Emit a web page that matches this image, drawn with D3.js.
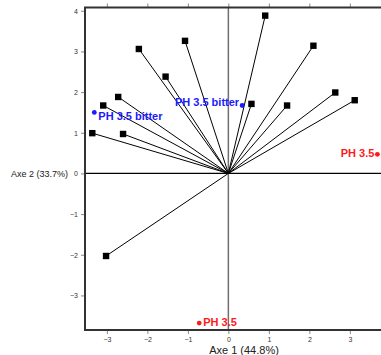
<!DOCTYPE html>
<html><head><meta charset="utf-8">
<script src="https://cdn.jsdelivr.net/npm/d3@7/dist/d3.min.js"></script>
<style>body{margin:0;background:#fff;overflow:hidden}svg{display:block}</style>
</head><body>
<svg id="c" width="381" height="355"></svg>
<script>
// Variable vectors (Axe 1, Axe 2)
const varX = [0.91, 2.10, -2.21, -1.07, -1.55, -2.72, -3.09, 0.57, 1.45, 2.64, 3.12, -3.36, -2.60, -3.02];
const varY = [3.88, 3.14, 3.06, 3.26, 2.38, 1.88, 1.67, 1.71, 1.67, 1.99, 1.80, 0.99, 0.97, -2.03];
// Supplementary points
const supLabels = ["PH 3.5 bitter", "PH 3.5 bitter", "PH 3.5", "PH 3.5"];
const supX = [0.34, -3.31, 3.68, -0.72];
const supY = [1.67, 1.50, 0.47, -3.68];
const supGroup = ["bitter", "bitter", "ph", "ph"];
const xTicks = [-3, -2, -1, 0, 1, 2, 3];
const yTicks = [-3, -2, -1, 0, 1, 2, 3, 4];
const xTitle = "Axe 1 (44.8%)";
const yTitle = "Axe 2 (33.7%)";

const svg = d3.select("#c");
const L = 85, T = 7.5, B = 330, R = 386.3;
const x = d3.scaleLinear().domain([-3.54, 3.9]).range([L, R]);
const y = d3.scaleLinear().domain([-3.85, 4.08]).range([B, T]);

// zero lines
svg.append("line").attr("x1", x(0)).attr("x2", x(0)).attr("y1", T).attr("y2", B)
  .attr("stroke", "#707070").attr("stroke-width", 1.5);
svg.append("line").attr("x1", L).attr("x2", 381).attr("y1", y(0)).attr("y2", y(0))
  .attr("stroke", "#000").attr("stroke-width", 1.2);

// vectors
const idx = d3.range(varX.length);
svg.append("g").selectAll("line").data(idx).join("line")
  .attr("x1", x(0)).attr("y1", y(0))
  .attr("x2", i => x(varX[i])).attr("y2", i => y(varY[i]))
  .attr("stroke", "#000").attr("stroke-width", 1);
svg.append("g").selectAll("rect").data(idx).join("rect")
  .attr("x", i => x(varX[i]) - 3.2).attr("y", i => y(varY[i]) - 3.2)
  .attr("width", 6.4).attr("height", 6.4).attr("fill", "#000");

// axes
const fontAx = "Arial, 'Liberation Sans', sans-serif";
const ax = svg.append("g").attr("transform", `translate(0,${B})`)
  .call(d3.axisBottom(x).tickValues(xTicks).tickSize(4).tickPadding(3).tickFormat(d3.format("d")));
const ay = svg.append("g").attr("transform", `translate(${L},0)`)
  .call(d3.axisLeft(y).tickValues(yTicks).tickSize(4).tickPadding(3).tickFormat(d3.format("d")));
const at = svg.append("g").attr("transform", `translate(0,${T})`)
  .call(d3.axisTop(x).tickValues(xTicks).tickSize(4).tickFormat(""));
[ax, ay, at].forEach(g => {
  g.select(".domain").remove();
  g.selectAll("line").attr("stroke", "#888").attr("stroke-width", 1);
  g.selectAll("text").attr("font-family", fontAx).attr("font-size", 7).attr("fill", "#333");
});

// frame
svg.append("path").attr("d", `M${R},${T}H${L}V${B}H${R}`).attr("fill", "none")
  .attr("stroke", "#333").attr("stroke-width", 2);

// supplementary points
const col = g => g === "bitter" ? "#1a1aff" : "#ff1a1a";
const sIdx = d3.range(supX.length);
svg.append("g").selectAll("circle").data(sIdx).join("circle")
  .attr("cx", i => x(supX[i])).attr("cy", i => y(supY[i])).attr("r", 2.4)
  .attr("fill", i => col(supGroup[i]));
const anchorRight = [true, false, true, false];
const dy = [0, 8, 3, 3];
svg.append("g").selectAll("text").data(sIdx).join("text")
  .attr("x", i => x(supX[i]) + (anchorRight[i] ? -3 : 4))
  .attr("y", i => y(supY[i]) + dy[i])
  .attr("text-anchor", i => anchorRight[i] ? "end" : "start")
  .attr("font-family", fontAx).attr("font-weight", "bold").attr("font-size", 11)
  .attr("fill", i => col(supGroup[i]))
  .text(i => supLabels[i]);

// axis titles
svg.append("text").attr("x", 244).attr("y", 354).attr("text-anchor", "middle")
  .attr("font-family", fontAx).attr("font-size", 11).attr("fill", "#222").text(xTitle);
svg.append("text").attr("x", 68).attr("y", y(0) + 3.5).attr("text-anchor", "end")
  .attr("font-family", fontAx).attr("font-size", 9).attr("fill", "#222").text(yTitle);
</script>
</body></html>
